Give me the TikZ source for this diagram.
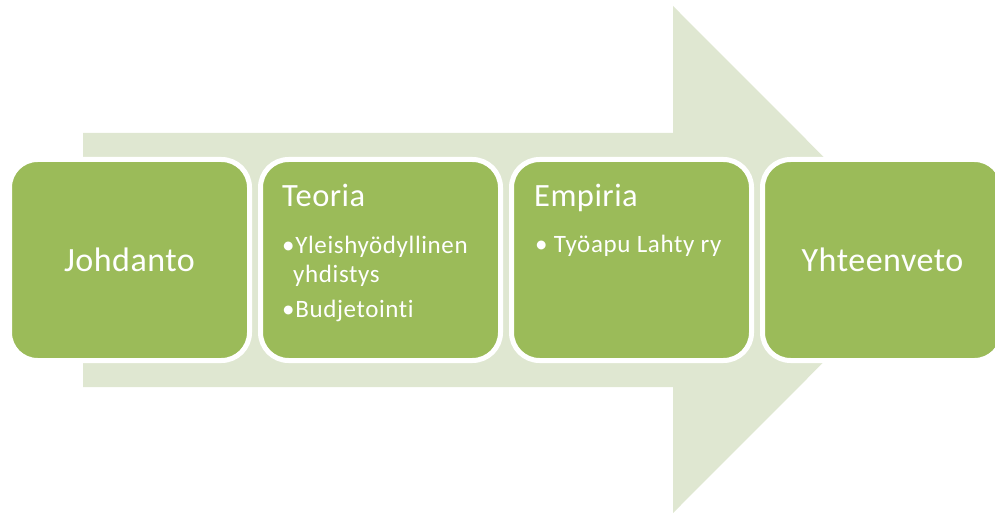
\documentclass[tikz,border=0pt]{standalone}
\usepackage{fontspec}
\setmainfont[Ligatures={NoCommon,NoContextual}]{Carlito}
\newfontfamily\itemfont[Ligatures={NoCommon,NoContextual},LetterSpace=2.5]{Carlito}
\newfontfamily\titlefont[Ligatures={NoCommon,NoContextual},LetterSpace=1.5]{Carlito}
\definecolor{arrowgreen}{HTML}{DFE7D1}
\definecolor{boxgreen}{HTML}{9BBB59}
\tikzset{
  stepbox/.style={rectangle, minimum width=240pt, minimum height=201pt, rounded corners=28pt,
    draw=white, line width=5pt, fill=boxgreen, inner sep=0pt},
  bigtxt/.style={text=white, inner sep=0pt, font=\titlefont\fontsize{34}{40}\selectfont},
  titletxt/.style={text=white, inner sep=0pt, anchor=base west, font=\titlefont\fontsize{32.5}{38}\selectfont},
  itemtxt/.style={text=white, inner sep=0pt, anchor=base west, font=\itemfont\fontsize{25}{29}\selectfont}
}
\begin{document}
\begin{tikzpicture}[x=1pt,y=-1pt]
\path[use as bounding box] (0,0) rectangle (995,513);
\clip (0,0) rectangle (995,513);
% big background arrow
\fill[arrowgreen] (83,133) -- (673,133) -- (673,6) -- (926,259.5) -- (673,513) -- (673,387) -- (83,387) -- cycle;
% boxes
\node[stepbox] (b1) at (129.5,260) {};
\node[stepbox] (b2) at (380.5,260) {};
\node[stepbox] (b3) at (631.5,260) {};
\node[stepbox] (b4) at (882.5,260) {};
% texts
\node[bigtxt] (t1) at (b1.center) {Johdanto};
\node[bigtxt] (t4) at (b4.center) {Yhteenveto};
\node[titletxt] (t2) at (282,207) {Teoria};
\node[itemtxt] (t2a) at (282,253) {•Yleishyödyllinen};
\node[itemtxt] (t2b) at (293,282) {yhdistys};
\node[itemtxt] (t2c) at (282,317) {•Budjetointi};
\node[titletxt] (t3) at (534,207) {Empiria};
\node[itemtxt] (t3a) at (535,252) {• Työapu Lahty ry};
\end{tikzpicture}
\end{document}
